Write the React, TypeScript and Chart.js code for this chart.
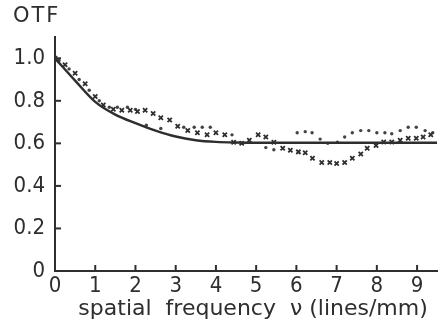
import React, { useEffect, useRef } from "react";
import { Chart, registerables } from "chart.js";

Chart.register(...registerables);

const xTickValues = [0, 1, 2, 3, 4, 5, 6, 7, 8, 9];
const yTickValues = [0, 0.2, 0.4, 0.6, 0.8, 1.0];

const curveX = [0, 0.5, 1, 1.5, 2, 2.5, 3, 3.5, 4, 4.5, 5, 5.5, 6, 6.5, 7, 7.5, 8, 8.5, 9, 9.5];
const curveY = [1.0, 0.895, 0.795, 0.735, 0.695, 0.66, 0.632, 0.615, 0.607, 0.604, 0.603, 0.603, 0.603, 0.603, 0.603, 0.603, 0.603, 0.603, 0.603, 0.603];

const crossX = [0, 0.25, 0.5, 0.75, 1.0, 1.2, 1.45, 1.66, 1.87, 2.05, 2.24, 2.44, 2.63, 2.85, 3.05, 3.3, 3.54, 3.78, 4.0, 4.22, 4.44, 4.64, 4.83, 5.05, 5.24, 5.44, 5.66, 5.85, 6.05, 6.22, 6.4, 6.63, 6.83, 7.0, 7.2, 7.39, 7.6, 7.76, 7.98, 8.17, 8.37, 8.58, 8.78, 8.98, 9.15, 9.34];
const crossY = [1.0, 0.97, 0.93, 0.88, 0.82, 0.78, 0.76, 0.756, 0.756, 0.75, 0.756, 0.74, 0.72, 0.71, 0.68, 0.66, 0.65, 0.64, 0.65, 0.64, 0.605, 0.6, 0.615, 0.64, 0.63, 0.605, 0.577, 0.568, 0.56, 0.556, 0.53, 0.51, 0.51, 0.505, 0.51, 0.53, 0.55, 0.577, 0.59, 0.606, 0.606, 0.615, 0.624, 0.624, 0.63, 0.64];

const dotX = [0.1, 0.35, 0.6, 0.85, 1.1, 1.35, 1.55, 1.8, 2.0, 2.27, 2.63, 3.2, 3.46, 3.66, 3.86, 4.4, 5.24, 5.44, 6.02, 6.22, 6.39, 6.59, 6.78, 7.02, 7.2, 7.39, 7.6, 7.8, 8.0, 8.2, 8.37, 8.58, 8.78, 8.98, 9.2, 9.39];
const dotY = [0.99, 0.95, 0.9, 0.85, 0.8, 0.77, 0.77, 0.77, 0.76, 0.685, 0.67, 0.676, 0.676, 0.676, 0.676, 0.64, 0.58, 0.57, 0.65, 0.655, 0.65, 0.62, 0.6, 0.606, 0.63, 0.65, 0.66, 0.66, 0.65, 0.65, 0.645, 0.66, 0.676, 0.676, 0.66, 0.65];

const INK = "#2e2e2e";

const inwardTicks = {
  id: "inwardTicks",
  afterDraw(chart: any) {
    const { ctx, scales, chartArea } = chart;
    ctx.save();
    ctx.strokeStyle = INK;
    ctx.lineWidth = 2;
    xTickValues.forEach((v) => {
      if (v === 0) return;
      const px = scales.x.getPixelForValue(v);
      ctx.beginPath();
      ctx.moveTo(px, chartArea.bottom);
      ctx.lineTo(px, chartArea.bottom - 6);
      ctx.stroke();
    });
    yTickValues.forEach((v) => {
      if (v === 0) return;
      const py = scales.y.getPixelForValue(v);
      ctx.beginPath();
      ctx.moveTo(chartArea.left, py);
      ctx.lineTo(chartArea.left + 6, py);
      ctx.stroke();
    });
    ctx.fillStyle = INK;
    ctx.font = "21px 'DejaVu Sans'";
    (ctx as any).letterSpacing = "2px";
    ctx.textBaseline = "top";
    ctx.textAlign = "left";
    ctx.fillText("OTF", 13, 6);
    ctx.restore();
  },
};

export default function App() {
  const ref = useRef<HTMLCanvasElement>(null);
  useEffect(() => {
    document.body.style.margin = "0";
    const chart = new Chart(ref.current!, {
      type: "scatter",
      data: {
        datasets: [
          {
            type: "line",
            data: curveX.map((x, i) => ({ x, y: curveY[i] })),
            borderColor: INK,
            borderWidth: 2.5,
            pointRadius: 0,
            cubicInterpolationMode: "monotone",
            fill: false,
          } as any,
          {
            data: crossX.map((x, i) => ({ x, y: crossY[i] })),
            pointStyle: "crossRot",
            pointRadius: 3,
            borderColor: INK,
            borderWidth: 1.8,
          },
          {
            data: dotX.map((x, i) => ({ x, y: dotY[i] })),
            pointStyle: "circle",
            pointRadius: 1.7,
            backgroundColor: "#444",
            borderColor: "#444",
            borderWidth: 0,
          },
        ],
      },
      plugins: [inwardTicks],
      options: {
        animation: false,
        responsive: false,
        layout: { padding: { top: 37, right: 0, left: 0, bottom: 0 } },
        plugins: { legend: { display: false }, tooltip: { enabled: false } },
        scales: {
          x: {
            type: "linear",
            min: 0,
            max: 9.5,
            afterBuildTicks: (s: any) => {
              s.ticks = xTickValues.map((v) => ({ value: v }));
            },
            grid: { display: false, drawTicks: false },
            border: { display: true, color: INK, width: 2 },
            ticks: {
              color: INK,
              font: { family: "'DejaVu Sans Condensed'", size: 22 },
              padding: 2,
              maxRotation: 0,
              autoSkip: false,
            },
            title: {
              display: true,
              text: "  spatial  frequency  ν (lines/mm)",
              color: INK,
              font: { family: "'DejaVu Sans'", size: 22 },
              padding: { top: 0, bottom: 0 },
            },
            afterFit: (s: any) => {
              s.height = 51;
            },
          },
          y: {
            type: "linear",
            min: 0,
            max: 1.1,
            afterBuildTicks: (s: any) => {
              s.ticks = yTickValues.map((v) => ({ value: v }));
            },
            grid: { display: false, drawTicks: false },
            border: { display: true, color: INK, width: 2 },
            ticks: {
              color: INK,
              font: { family: "'DejaVu Sans Condensed'", size: 22 },
              padding: 10,
              callback: (v: any) => (Number(v) === 0 ? "0" : Number(v).toFixed(1)),
            },
            afterFit: (s: any) => {
              s.width = 55;
            },
          },
        },
      },
    } as any);
    return () => chart.destroy();
  }, []);
  return (
    <div style={{ position: "absolute", left: 0, top: 0, width: 443, height: 322, background: "#fff" }}>
      <canvas ref={ref} width={443} height={322} />
    </div>
  );
}
